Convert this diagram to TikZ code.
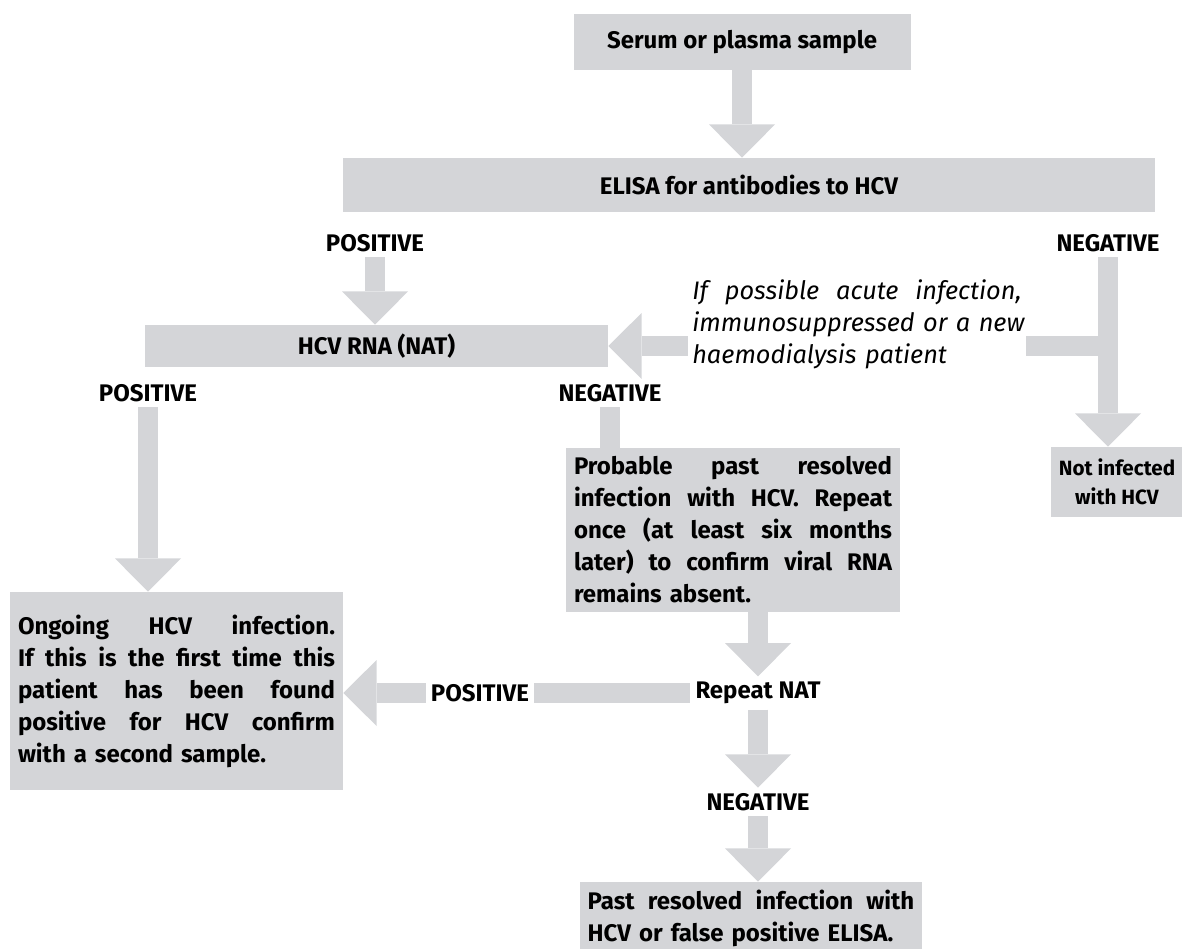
\documentclass[tikz,border=0pt]{standalone}
\usepackage{fontspec}
\setmainfont{Fira Sans}
\usetikzlibrary{arrows.meta,calc}
\pgfdeclarelayer{bg}
\pgfsetlayers{bg,main}
\definecolor{boxg}{RGB}{212,213,216}
\setlength\parindent{0pt}
\newcommand\fsz{\fontsize{18}{24}\selectfont}
\newcommand\ifsz{\fontsize{19}{24}\selectfont}
\newcommand\jl[2]{\makebox[#1][s]{#2}}
\newcommand\gap{\hfill\ }
\newlength\condw
\begin{document}
\settowidth{\condw}{\itshape\ifsz immunosuppressed or a new}%
\addtolength{\condw}{2pt}%
\begin{tikzpicture}[x=0.75pt,y=-0.75pt,
  gbox/.style={fill=boxg, inner xsep=6pt, inner ysep=4pt, font=\bfseries\fsz},
  lbl/.style={font=\bfseries\fsz, inner sep=4pt, fill=white},
  flow/.style={draw=boxg, line width=15pt, -{Triangle[width=49.5pt,length=25pt,line width=0pt]}},
  stem/.style={draw=boxg, line width=15pt}]
\useasboundingbox (0,0) rectangle (1182,949);
% boxes and labels
\node[gbox, minimum width=252.75pt, minimum height=42pt] (serum) at (742,42) {Serum or plasma sample};
\node[gbox, minimum width=609pt, minimum height=40.5pt] (elisa) at (749,185) {ELISA for antibodies to HCV};
\node[lbl] (pos1) at (375,243) {POSITIVE};
\node[lbl] (neg1) at (1108,243) {NEGATIVE};
\node[gbox, minimum width=347.25pt, minimum height=31.5pt] (hcv) at (376.5,346) {HCV RNA (NAT)};
\node[fill=white, inner sep=3pt, text width=\condw, align=left, font=\itshape\ifsz, anchor=west] (cond) at (688,324)
  {\jl{\condw}{If\gap possible\gap acute\gap infection,}\\\jl{\condw}{immunosuppressed\gap or\gap a\gap new}\\\makebox[\condw][l]{haemodialysis patient}};
\node[lbl] (pos2) at (148,393) {POSITIVE};
\node[lbl] (neg2) at (610,393) {NEGATIVE};
\node[gbox, align=center, minimum width=97.5pt, minimum height=52.5pt, font=\bfseries\fontsize{15.5}{22}\selectfont] (notinf) at (1117,482) {Not infected\\with HCV};
\node[gbox, text width=238.5pt, align=left, minimum height=123pt] (prob) at (733,530)
  {\jl{238.5pt}{Probable\gap past\gap resolved}\\\jl{238.5pt}{infection\gap with\gap HCV.\gap Repeat}\\\jl{238.5pt}{once\gap (at\gap least\gap six\gap months}\\\jl{238.5pt}{later)\gap to\gap confirm\gap viral\gap RNA}\\remains absent.};
\node[gbox, text width=237.75pt, align=left, minimum height=148.5pt] (ongo) at (176.5,691)
  {\jl{237.75pt}{Ongoing\gap HCV\gap infection.}\\\jl{237.75pt}{If\gap this\gap is\gap the\gap first\gap time\gap this}\\\jl{237.75pt}{patient\gap has\gap been\gap found}\\\jl{237.75pt}{positive\gap for\gap HCV\gap confirm}\\with a second sample.};
\node[lbl] (rep) at (758,693) {Repeat NAT};
\node[lbl] (pos3) at (480,693) {POSITIVE};
\node[lbl] (neg3) at (758,802) {NEGATIVE};
\node[gbox, text width=245pt, align=left, minimum height=54pt] (bot) at (751,918)
  {\jl{245pt}{Past\gap resolved\gap infection\gap with}\\HCV or false positive ELISA.};
% connectors
\begin{pgfonlayer}{bg}
\draw[flow] (serum.south) -- (serum.south |- elisa.north);
\draw[flow] (pos1.south) -- (pos1.south |- hcv.north);
\draw[flow] (neg1.south) -- (neg1.south |- notinf.north);
\coordinate (j) at (neg1.south |- hcv.east);
\draw[flow] (j) -- (hcv.east);
\draw[flow] (pos2.south) -- (pos2.south |- ongo.north);
\draw[stem] (neg2.south) -- (neg2.south |- prob.north);
\draw[flow] (rep.north |- prob.south) -- (rep.north);
\draw[flow] (rep.west) -- (ongo.east |- rep.west);
\draw[flow] (rep.south) -- (neg3.north);
\draw[flow] (neg3.south) -- (neg3.south |- bot.north);
\end{pgfonlayer}
\end{tikzpicture}
\end{document}
